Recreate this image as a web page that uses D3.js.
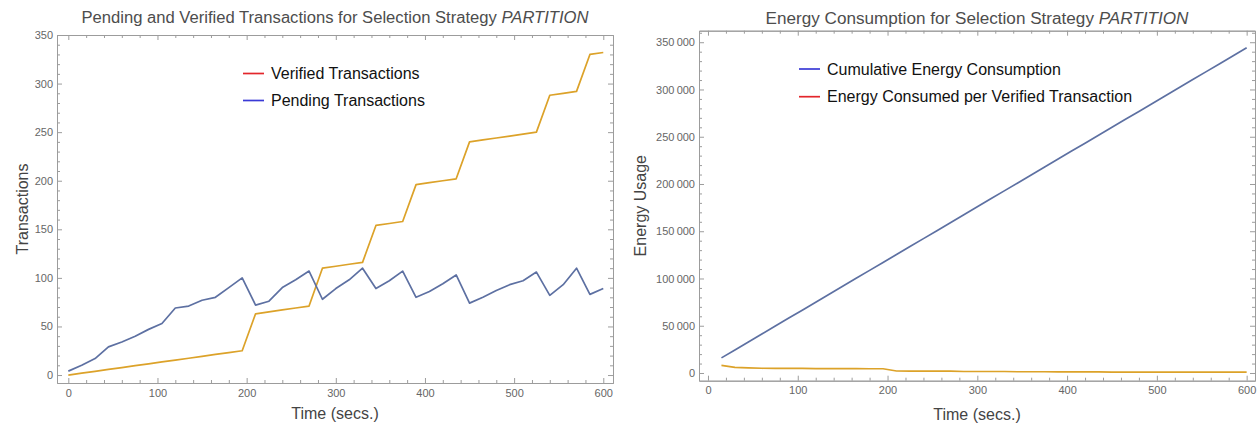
<!DOCTYPE html>
<html>
<head>
<meta charset="utf-8">
<script src="https://cdn.jsdelivr.net/npm/d3@7"></script>
<style>
  body { margin: 0; background: #fff; }
  text { font-family: "Liberation Sans", Arial, Helvetica, sans-serif; }
</style>
</head>
<body>
<svg id="chart" width="1259" height="426"></svg>
<script>
// Sampling instants (seconds) for the transaction counts
const timeSecs = [0, 15, 30, 45, 60, 75, 90, 105, 120, 135, 150, 165, 180, 195, 210, 225, 240, 255, 270, 285,
  300, 315, 330, 345, 360, 375, 390, 405, 420, 435, 450, 465, 480, 495, 510, 525, 540, 555, 570, 585, 600];

// Transactions still waiting to be verified
const pendingTx = [4, 10, 17, 29, 34, 40, 47, 53, 69, 71, 77, 80, 90, 100, 72, 76, 90, 98, 107, 78,
  89, 98, 110, 89, 97, 107, 80, 86, 94, 103, 74, 80, 87, 93, 97, 106, 82, 93, 110, 83, 89];

// Transactions verified so far
const verifiedTx = [0, 1.9, 3.8, 5.8, 7.7, 9.6, 11.5, 13.5, 15.4, 17.3, 19.2, 21.2, 23.1, 25, 63, 65, 67, 69, 71, 110,
  112, 114, 116, 154, 156, 158, 196, 198, 200, 202, 240, 242, 244, 246, 248, 250, 288, 290, 292, 330, 332];

// Sampling instants (seconds) for the energy figures
const energyTimes = [15, 30, 45, 60, 75, 90, 105, 120, 135, 150, 165, 180, 195, 210, 225, 240, 255, 270, 285, 300,
  315, 330, 345, 360, 375, 390, 405, 420, 435, 450, 465, 480, 495, 510, 525, 540, 555, 570, 585, 600];

// Total energy used since the start
const cumulativeEnergy = [16000, 24400, 32800, 41300, 49700, 58100, 66500, 74900, 83300, 91700,
  100200, 108600, 117000, 125400, 133800, 142200, 150600, 159000, 167500, 175900,
  184300, 192700, 201100, 209500, 217900, 226400, 234800, 243200, 251600, 260000,
  268400, 276800, 285200, 293700, 302100, 310500, 318900, 327300, 335700, 344100];

// Energy spent per verified transaction
const energyPerVerified = [8000, 6000, 5400, 5000, 4900, 4800, 4800, 4700, 4700, 4600,
  4600, 4500, 4500, 2100, 2000, 2000, 2000, 1900, 1600, 1600,
  1600, 1600, 1300, 1300, 1300, 1100, 1100, 1100, 1100, 1000,
  1000, 1000, 1000, 1000, 1000, 1000, 1000, 1000, 1000, 1000];

// Tick labels
const timeTicks = [0, 100, 200, 300, 400, 500, 600];
const txTicks = [0, 50, 100, 150, 200, 250, 300, 350];
const energyTicks = [0, 50000, 100000, 150000, 200000, 250000, 300000, 350000];

const BLUE_LINE = "#5d70a2";
const ORANGE_LINE = "#dca229";
const FRAME = "#9c9c9c";
const TICK_TEXT = "#666";

const svg = d3.select("#chart");

function minorTicks(domain, major, step) {
  const out = [];
  const start = Math.ceil(domain[0] / step) * step;
  for (let v = start; v <= domain[1] + 1e-9; v += step) {
    if (!major.includes(Math.round(v))) out.push(v);
  }
  return out;
}

function drawPanel(o) {
  const x = d3.scaleLinear().domain(o.xDomain).range([o.left, o.right]);
  const y = d3.scaleLinear().domain(o.yDomain).range([o.bottom, o.top]);
  const g = svg.append("g");

  const xMinor = minorTicks(o.xDomain, o.xTicks, o.xMinorStep);
  const yMinor = minorTicks(o.yDomain, o.yTicks, o.yMinorStep);

  const styleAxis = sel => {
    sel.select(".domain").attr("stroke", FRAME).attr("stroke-width", 1);
    sel.selectAll(".tick line").attr("stroke", FRAME).attr("stroke-width", 1);
    sel.selectAll(".tick text").attr("fill", TICK_TEXT).attr("font-size", 11)
      .attr("font-family", "'Liberation Sans', Arial, sans-serif");
  };

  // bottom
  g.append("g").attr("transform", `translate(0,${o.bottom})`)
    .call(d3.axisBottom(x).tickValues(o.xTicks).tickSizeInner(-5).tickSizeOuter(0).tickPadding(6)
      .tickFormat(d3.format("d")))
    .call(styleAxis);
  g.append("g").attr("transform", `translate(0,${o.bottom})`)
    .call(d3.axisBottom(x).tickValues(xMinor).tickSizeInner(-3).tickSizeOuter(0).tickFormat(""))
    .call(styleAxis);
  // top
  g.append("g").attr("transform", `translate(0,${o.top})`)
    .call(d3.axisTop(x).tickValues(o.xTicks).tickSizeInner(-5).tickSizeOuter(0).tickFormat(""))
    .call(styleAxis);
  g.append("g").attr("transform", `translate(0,${o.top})`)
    .call(d3.axisTop(x).tickValues(xMinor).tickSizeInner(-3).tickSizeOuter(0).tickFormat(""))
    .call(styleAxis);
  // left
  g.append("g").attr("transform", `translate(${o.left},0)`)
    .call(d3.axisLeft(y).tickValues(o.yTicks).tickSizeInner(-5).tickSizeOuter(0).tickPadding(4)
      .tickFormat(o.yFormat))
    .call(styleAxis);
  g.append("g").attr("transform", `translate(${o.left},0)`)
    .call(d3.axisLeft(y).tickValues(yMinor).tickSizeInner(-3).tickSizeOuter(0).tickFormat(""))
    .call(styleAxis);
  // right
  g.append("g").attr("transform", `translate(${o.right},0)`)
    .call(d3.axisRight(y).tickValues(o.yTicks).tickSizeInner(-5).tickSizeOuter(0).tickFormat(""))
    .call(styleAxis);
  g.append("g").attr("transform", `translate(${o.right},0)`)
    .call(d3.axisRight(y).tickValues(yMinor).tickSizeInner(-3).tickSizeOuter(0).tickFormat(""))
    .call(styleAxis);

  // series
  o.series.forEach(s => {
    const line = d3.line().x((d, i) => x(s.x[i])).y(d => y(d));
    g.append("path").datum(s.y)
      .attr("d", line)
      .attr("fill", "none")
      .attr("stroke", s.color)
      .attr("stroke-width", 1.7)
      .attr("stroke-linejoin", "round");
  });

  // title
  const t = g.append("text")
    .attr("x", (o.left + o.right) / 2).attr("y", o.titleY)
    .attr("text-anchor", "middle").attr("font-size", 16).attr("fill", "#4d4d4d")
    .attr("textLength", o.titleWidth).attr("lengthAdjust", "spacingAndGlyphs");
  t.append("tspan").text(o.title);
  t.append("tspan").attr("font-style", "italic").text("PARTITION");

  // axis titles
  g.append("text")
    .attr("x", (o.left + o.right) / 2).attr("y", o.xLabelY)
    .attr("text-anchor", "middle").attr("font-size", 16).attr("fill", "#444")
    .text("Time (secs.)");
  g.append("text")
    .attr("transform", `translate(${o.yLabelX},${(o.top + o.bottom) / 2}) rotate(-90)`)
    .attr("text-anchor", "middle").attr("font-size", 16).attr("fill", "#444")
    .attr("dy", "0.35em")
    .text(o.yLabel);

  // legend
  o.legend.forEach((l, i) => {
    const ly = o.legendY + i * o.legendGap;
    g.append("line")
      .attr("x1", o.legendX).attr("x2", o.legendX + 21)
      .attr("y1", ly).attr("y2", ly)
      .attr("stroke", l.color).attr("stroke-width", 1.7);
    g.append("text")
      .attr("x", o.legendX + 28).attr("y", ly).attr("dy", "0.35em")
      .attr("font-size", 16).attr("fill", "#111")
      .text(l.label);
  });
}

const thinSpace = d => d3.format(",")(d).replace(/,/g, "\u2009");

drawPanel({
  left: 57, right: 613, top: 35, bottom: 383,
  xDomain: [-12.7, 610.9], yDomain: [-8.2, 350],
  xTicks: timeTicks, yTicks: txTicks, xMinorStep: 20, yMinorStep: 10,
  yFormat: d3.format("d"),
  title: "Pending and Verified Transactions for Selection Strategy ", titleY: 23, titleWidth: 507,
  xLabelY: 419, yLabel: "Transactions", yLabelX: 22,
  series: [
    { x: timeSecs, y: verifiedTx, color: ORANGE_LINE },
    { x: timeSecs, y: pendingTx, color: BLUE_LINE }
  ],
  legend: [
    { label: "Verified Transactions", color: "#e3262b" },
    { label: "Pending Transactions", color: "#3a3ad6" }
  ],
  legendX: 243, legendY: 73.5, legendGap: 27
});

drawPanel({
  left: 699, right: 1255, top: 30.7, bottom: 380.7,
  xDomain: [-10, 609.3], yDomain: [-8150, 362200],
  xTicks: timeTicks, yTicks: energyTicks, xMinorStep: 20, yMinorStep: 10000,
  yFormat: thinSpace,
  title: "Energy Consumption for Selection Strategy ", titleY: 24, titleWidth: 423,
  xLabelY: 420, yLabel: "Energy Usage", yLabelX: 640,
  series: [
    { x: energyTimes, y: energyPerVerified, color: ORANGE_LINE },
    { x: energyTimes, y: cumulativeEnergy, color: BLUE_LINE }
  ],
  legend: [
    { label: "Cumulative Energy Consumption", color: "#3a3ad6" },
    { label: "Energy Consumed per Verified Transaction", color: "#e3262b" }
  ],
  legendX: 799, legendY: 69, legendGap: 27.7
});
</script>
</body>
</html>
